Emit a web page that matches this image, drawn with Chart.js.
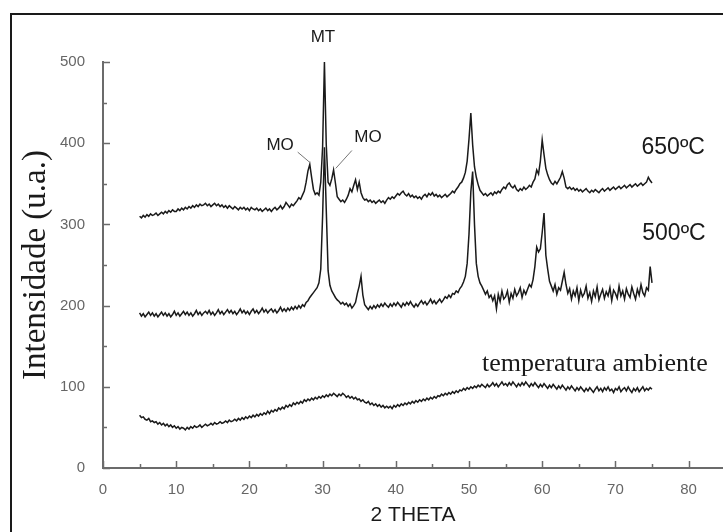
<!DOCTYPE html>
<html>
<head>
<meta charset="utf-8">
<title>DRX</title>
<script src="https://cdn.jsdelivr.net/npm/chart.js@4.4.1/dist/chart.umd.min.js"></script>
<style>
  html, body { margin: 0; padding: 0; background: #fff; }
  canvas { display: block; }
</style>
</head>
<body>
<canvas id="drx" width="723" height="532"></canvas>
<script>
// Barrido en 2 theta: de 5 a 75 grados, paso 0.25
const inicio2Theta = 5;
const paso2Theta = 0.25;

// Marcas con etiqueta en cada eje
const marcasX = [0, 10, 20, 30, 40, 50, 60, 70, 80];
const marcasY = [0, 100, 200, 300, 400, 500];

// Intensidades (u.a.), cuatro lecturas por grado, ultima en 75
const intensidad650 = [
  310, 308, 311, 309,  312, 310, 313, 311,  312, 314, 311, 313,  315, 313, 316, 314,  317, 315, 318, 316,
  316, 319, 317, 320,  318, 321, 319, 322,  320, 323, 321, 324,  322, 325, 323, 324,  326, 323, 325, 322,
  324, 326, 323, 325,  322, 324, 321, 323,  320, 323, 321, 319,  322, 320, 318, 321,  319, 321, 318, 320,
  317, 321, 319, 318,  320, 317, 319, 316,  318, 320, 317, 319,  316, 319, 321, 318,  320, 323, 319, 322,
  327, 324, 321, 325,  323, 326, 329, 333,  331, 336, 341, 352,  366, 374, 358, 343,  337, 339, 336, 352,
  395, 500, 398, 352,  348, 356, 367, 351,  334, 331, 328, 330,  327, 331, 336, 344,  340, 348, 355, 343,
  352, 339, 333, 330,  331, 328, 330, 327,  329, 326, 328, 330,  327, 329, 326, 330,  333, 331, 334, 332,
  335, 338, 336, 339,  341, 337, 335, 338,  334, 336, 333, 335,  332, 334, 331, 335,  337, 334, 338, 336,
  339, 335, 337, 334,  336, 333, 335, 337,  334, 336, 338, 341,  339, 343, 346, 350,  352, 357, 364, 378,
  405, 437, 398, 371,  358, 349, 342, 339,  336, 338, 335, 337,  339, 336, 340, 338,  341, 339, 343, 346,
  344, 349, 351, 347,  345, 348, 343, 341,  344, 342, 346, 343,  345, 348, 346, 352,  356, 367, 362, 378,
  404, 386, 369, 361,  355, 351, 349, 353,  350, 354, 358, 365,  357, 346, 344, 346,  343, 345, 342, 344,
  341, 343, 340, 342,  344, 341, 339, 342,  340, 343, 341, 339,  342, 344, 341, 343,  345, 342, 344, 346,
  343, 345, 347, 344,  346, 348, 345, 347,  349, 346, 348, 350,  347, 349, 351, 348,  350, 352, 358, 354,
  351
];

const intensidad500 = [
  191, 187, 190, 186,  189, 192, 188, 191,  187, 190, 186, 189,  192, 188, 191, 187,  190, 186, 189, 193,
  188, 191, 187, 190,  193, 189, 192, 188,  191, 187, 190, 194,  189, 192, 188, 191,  193, 190, 194, 189,
  192, 188, 191, 195,  190, 193, 189, 192,  195, 191, 194, 190,  193, 189, 192, 196,  191, 194, 190, 193,
  189, 193, 196, 191,  194, 190, 193, 197,  192, 195, 191, 194,  196, 192, 195, 191,  194, 198, 193, 196,
  193, 197, 194, 198,  195, 199, 196, 200,  197, 201, 199, 204,  206, 210, 213, 216,  219, 222, 228, 245,
  310, 395, 318, 243,  225, 218, 214, 210,  207, 205, 202, 204,  201, 203, 199, 202,  197, 200, 204, 215,
  224, 236, 213, 201,  198, 195, 199, 196,  200, 197, 201, 198,  202, 199, 203, 200,  198, 202, 199, 203,
  200, 204, 201, 198,  203, 200, 204, 201,  205, 201, 198, 202,  199, 203, 206, 202,  205, 201, 204, 208,
  203, 206, 202, 205,  208, 204, 207, 211,  209, 213, 210, 215,  214, 218, 216, 221,  224, 229, 236, 252,
  288, 340, 365, 300,  252, 236, 228, 224,  219, 214, 218, 210,  213, 206, 212, 196,  214, 205, 218, 208,
  211, 218, 204, 215,  209, 220, 212, 216,  222, 210, 219, 214,  220, 226, 223, 232,  248, 272, 266, 270,
  290, 314, 262, 245,  230, 224, 218, 226,  214, 222, 219, 230,  241, 226, 215, 221,  208, 218, 212, 222,
  206, 219, 211, 215,  224, 209, 216, 205,  218, 211, 223, 207,  214, 220, 209, 217,  212, 222, 206, 219,
  215, 209, 224, 212,  218, 208, 221, 214,  210, 223, 215, 208,  220, 213, 226, 216,  212, 222, 219, 248,
  228
];

const intensidadAmbiente = [
   65,  62,  63,  60,   59,  61,  57,  58,   56,  57,  54,  56,   53,  55,  52,  54,   51,  53,  50,  52,
   49,  51,  48,  50,   49,  47,  50,  48,   51,  49,  52,  50,   51,  53,  50,  52,   54,  52,  53,  55,
   53,  56,  54,  55,   57,  55,  56,  58,   56,  59,  57,  58,   60,  58,  61,  59,   62,  60,  63,  61,
   64,  62,  65,  63,   66,  64,  67,  65,   68,  66,  70,  67,   71,  69,  72,  70,   74,  72,  75,  73,
   77,  75,  78,  76,   80,  78,  81,  79,   82,  80,  84,  82,   85,  83,  86,  84,   87,  85,  88,  86,
   89,  87,  90,  88,   91,  89,  92,  90,   88,  91,  89,  92,   90,  87,  89,  86,   88,  85,  87,  84,
   85,  82,  84,  81,   80,  82,  78,  80,   77,  79,  76,  78,   75,  77,  74,  76,   74,  76,  73,  77,
   75,  78,  76,  79,   77,  80,  78,  81,   79,  82,  80,  83,   81,  84,  82,  85,   83,  86,  84,  87,
   85,  88,  86,  89,   88,  91,  89,  92,   90,  93,  91,  94,   92,  95,  93,  96,   95,  98,  96,  99,
   97, 100,  98, 101,   99, 102, 100, 103,  101,  99, 103, 100,  102, 105, 101, 104,  100, 103, 106, 102,
  104, 101, 105, 102,  106, 103, 100, 104,  101, 105, 102, 106,  103, 100, 104, 101,  105, 102,  99, 103,
  100, 104, 101,  98,  102,  99, 103, 100,   97, 101,  98, 102,   99,  96, 100,  97,  101,  98,  95,  99,
   96, 100,  97,  94,   98,  95,  99,  96,   93,  97, 100,  95,   98,  94,  99,  96,  100,  95,  97,  93,
   98,  96, 100,  94,   97,  99,  95, 100,   96,  93,  98,  95,   99,  94,  97, 100,   95,  98,  96,  99,
   97
];

// Textos sobre la grafica, colocados en unidades de los ejes
const rotulos = [
  { texto: "MT", x: 30.05, y: 530, fuente: "17px 'Liberation Sans', Arial, sans-serif" },
  { texto: "MO", x: 24.2, y: 397, fuente: "17px 'Liberation Sans', Arial, sans-serif" },
  { texto: "MO", x: 36.2, y: 407, fuente: "17px 'Liberation Sans', Arial, sans-serif" },
  { texto: "650ºC", x: 77.9, y: 394, fuente: "23px 'Liberation Sans', Arial, sans-serif" },
  { texto: "500ºC", x: 78.0, y: 289, fuente: "23px 'Liberation Sans', Arial, sans-serif" },
  { texto: "temperatura ambiente", x: 67.2, y: 128, fuente: "26px 'Liberation Serif', 'Times New Roman', serif" }
];

// Lineas que señalan los picos MO
const guias = [
  [26.6, 389, 28.3, 376],
  [34.0, 391, 31.8, 369]
];

function aPuntos(valores) {
  return valores.map((v, i) => ({ x: inicio2Theta + i * paso2Theta, y: v }));
}

const colorEje = "#6b6b6b";
const colorTraza = "#1a1a1a";

const serie = (nombre, valores) => ({
  label: nombre,
  data: aPuntos(valores),
  borderColor: colorTraza,
  borderWidth: 1.5,
  pointRadius: 0,
  tension: 0,
  fill: false
});

// Marco, marcas de los ejes y rotulos
const decoracion = {
  id: "decoracion",
  beforeDraw(chart) {
    const ctx = chart.ctx;
    ctx.save();
    ctx.fillStyle = "#ffffff";
    ctx.fillRect(0, 0, chart.width, chart.height);
    ctx.restore();
  },
  afterDraw(chart) {
    const ctx = chart.ctx;
    const sx = chart.scales.x, sy = chart.scales.y;
    const area = chart.chartArea;
    ctx.save();

    // marco exterior
    ctx.strokeStyle = "#1a1a1a";
    ctx.lineWidth = 2;
    ctx.beginPath();
    ctx.moveTo(11, chart.height);
    ctx.lineTo(11, 14);
    ctx.lineTo(chart.width, 14);
    ctx.stroke();

    // marcas hacia dentro
    ctx.strokeStyle = colorEje;
    ctx.lineWidth = 1.5;
    ctx.beginPath();
    for (let v = 0; v <= sx.max; v += 5) {
      const px = Math.round(sx.getPixelForValue(v)) + 0.5;
      const largo = v % 10 === 0 ? 7 : 4;
      ctx.moveTo(px, area.bottom);
      ctx.lineTo(px, area.bottom - largo);
    }
    for (let v = 0; v <= sy.max; v += 50) {
      const py = Math.round(sy.getPixelForValue(v)) + 0.5;
      const largo = v % 100 === 0 ? 7 : 4;
      ctx.moveTo(area.left, py);
      ctx.lineTo(area.left + largo, py);
    }
    ctx.stroke();

    // guias de los MO
    ctx.strokeStyle = "#777";
    ctx.lineWidth = 1;
    ctx.beginPath();
    guias.forEach(g => {
      ctx.moveTo(sx.getPixelForValue(g[0]), sy.getPixelForValue(g[1]));
      ctx.lineTo(sx.getPixelForValue(g[2]), sy.getPixelForValue(g[3]));
    });
    ctx.stroke();

    // rotulos
    ctx.fillStyle = "#1a1a1a";
    ctx.textAlign = "center";
    ctx.textBaseline = "middle";
    rotulos.forEach(r => {
      ctx.font = r.fuente;
      ctx.fillText(r.texto, sx.getPixelForValue(r.x), sy.getPixelForValue(r.y));
    });
    ctx.restore();
  }
};

const grafica = new Chart(document.getElementById("drx"), {
  type: "line",
  data: {
    datasets: [
      serie("650ºC", intensidad650),
      serie("500ºC", intensidad500),
      serie("temperatura ambiente", intensidadAmbiente)
    ]
  },
  options: {
    responsive: false,
    animation: false,
    events: [],
    layout: { padding: { top: 62, right: 0, bottom: 0, left: 0 } },
    plugins: {
      legend: { display: false },
      tooltip: { enabled: false }
    },
    scales: {
      x: {
        type: "linear",
        min: 0,
        max: 84.7,
        afterBuildTicks: s => { s.ticks = marcasX.map(v => ({ value: v })); },
        afterFit: s => { s.height = 64; },
        grid: { display: false },
        border: { display: true, color: colorEje, width: 2 },
        ticks: {
          padding: 5,
          maxRotation: 0,
          autoSkip: false,
          color: "#666",
          font: { family: "'Liberation Sans', Arial, sans-serif", size: 15 }
        },
        title: {
          display: true,
          text: "2 THETA",
          color: "#1a1a1a",
          font: { family: "'Liberation Sans', Arial, sans-serif", size: 21, lineHeight: 1 },
          padding: { top: 0, bottom: 6 }
        }
      },
      y: {
        type: "linear",
        min: 0,
        max: 500,
        afterBuildTicks: s => { s.ticks = marcasY.map(v => ({ value: v })); },
        afterFit: s => { s.width = 103; },
        grid: { display: false },
        border: { display: true, color: colorEje, width: 2 },
        ticks: {
          padding: 10,
          color: "#666",
          font: { family: "'Liberation Sans', Arial, sans-serif", size: 15 }
        },
        title: {
          display: true,
          text: "Intensidade (u.a.)",
          color: "#1a1a1a",
          font: { family: "'Liberation Serif', 'Times New Roman', serif", size: 33, lineHeight: 1 },
          padding: { top: 20, bottom: 0 }
        }
      }
    }
  },
  plugins: [decoracion]
});
</script>
</body>
</html>
